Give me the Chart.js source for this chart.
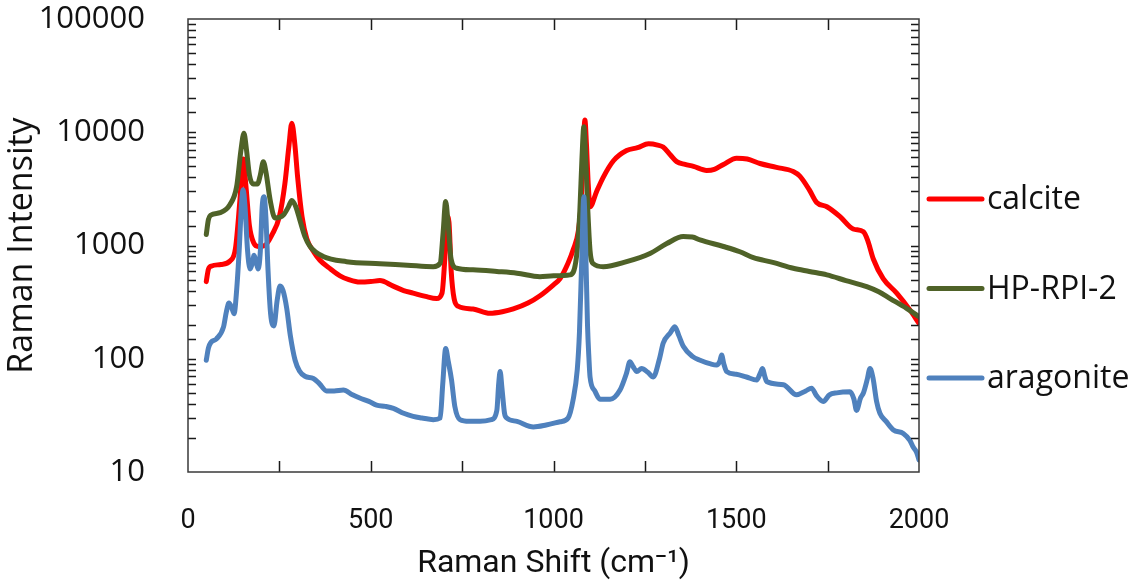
<!DOCTYPE html>
<html>
<head>
<meta charset="utf-8">
<title>Raman spectra</title>
<script src="https://cdn.jsdelivr.net/npm/chart.js@4/dist/chart.umd.min.js"></script>
<style>
  html, body { margin: 0; padding: 0; background: #fff; }
  #wrap { width: 1136px; height: 583px; }
</style>
</head>
<body>
<div id="wrap"><canvas id="spectra"></canvas></div>
<script>
// Raman shift (cm-1) and intensity for each sample
const calciteShift = [50, 56, 65, 90, 115, 130, 142, 151, 158, 168, 180, 192, 210, 230, 250, 265, 276, 284, 292, 300, 312, 325, 345, 361, 390, 416, 440, 470, 500, 525, 560, 590, 616, 650, 680, 695, 703, 709, 714, 720, 728, 740, 780, 826, 860, 890, 930, 963, 1000, 1018, 1040, 1054, 1068, 1076, 1082, 1086, 1090, 1095, 1100, 1118, 1136, 1164, 1200, 1230, 1260, 1285, 1300, 1320, 1337, 1360, 1383, 1419, 1440, 1465, 1501, 1530, 1565, 1610, 1656, 1674, 1700, 1720, 1748, 1784, 1820, 1848, 1860, 1875, 1902, 1939, 1975, 2000];
const calciteIntensity = [480, 620, 660, 680, 730, 950, 2500, 5800, 3500, 1500, 1050, 980, 1000, 1250, 1800, 3500, 7500, 12000, 8000, 4000, 1800, 1150, 870, 740, 620, 540, 500, 475, 480, 490, 440, 400, 380, 355, 340, 380, 800, 1800, 1600, 600, 340, 290, 275, 252, 260, 275, 310, 360, 450, 510, 700, 920, 1350, 2500, 8000, 12800, 8000, 3500, 2200, 3000, 4000, 5600, 6900, 7300, 7900, 7700, 7400, 6300, 5500, 5200, 5000, 4600, 4700, 5200, 5900, 5800, 5300, 4900, 4500, 4100, 3100, 2400, 2200, 1800, 1400, 1320, 1100, 760, 510, 380, 270, 205];

const hpShift = [50, 56, 62, 88, 115, 133, 145, 153, 160, 168, 178, 190, 198, 206, 213, 225, 238, 261, 275, 284, 295, 306, 320, 334, 370, 434, 525, 600, 671, 690, 698, 705, 712, 720, 735, 780, 845, 900, 963, 1000, 1045, 1063, 1072, 1078, 1083, 1088, 1094, 1100, 1109, 1136, 1200, 1264, 1310, 1355, 1380, 1401, 1465, 1510, 1547, 1600, 1656, 1700, 1748, 1800, 1857, 1890, 1921, 1966, 2000];
const hpIntensity = [1250, 1700, 1850, 1950, 2300, 3300, 7000, 9800, 7000, 4200, 3500, 3500, 4200, 5500, 4500, 2500, 1750, 1860, 2200, 2500, 2200, 1680, 1200, 980, 800, 720, 690, 670, 650, 700, 1300, 2450, 1500, 750, 630, 610, 590, 570, 530, 540, 550, 800, 2000, 6000, 11200, 6000, 2000, 900, 690, 650, 720, 850, 1040, 1200, 1190, 1120, 980, 880, 780, 710, 630, 590, 550, 490, 433, 390, 340, 279, 235];

const aragoniteShift = [50, 56, 63, 78, 97, 105, 112, 120, 126, 133, 140, 147, 151, 156, 163, 170, 176, 181, 187, 192, 198, 203, 208, 213, 219, 226, 235, 244, 252, 260, 270, 280, 293, 305, 320, 343, 360, 379, 400, 425, 450, 470, 495, 516, 540, 562, 590, 616, 640, 671, 690, 697, 705, 712, 721, 730, 744, 770, 799, 830, 845, 850, 854, 859, 866, 872, 900, 945, 980, 1018, 1040, 1054, 1065, 1071, 1077, 1083, 1089, 1093, 1097, 1100, 1113, 1127, 1155, 1182, 1200, 1209, 1218, 1228, 1241, 1258, 1273, 1290, 1300, 1320, 1332, 1343, 1355, 1380, 1401, 1430, 1446, 1455, 1460, 1466, 1474, 1500, 1528, 1556, 1566, 1572, 1578, 1583, 1629, 1665, 1690, 1706, 1720, 1738, 1755, 1775, 1811, 1822, 1829, 1840, 1848, 1858, 1866, 1874, 1884, 1893, 1910, 1930, 1957, 1975, 1984, 1993, 2000];
const aragoniteIntensity = [97, 125, 140, 150, 190, 260, 310, 280, 250, 400, 900, 2500, 3100, 2200, 900, 620, 700, 820, 700, 620, 900, 2200, 2700, 1800, 600, 250, 195, 330, 440, 400, 280, 160, 97, 78, 70, 67, 60, 52, 52, 53, 48, 45, 42, 39, 38, 36.5, 33, 31, 30, 29, 30, 60, 123, 95, 65, 38, 29, 28, 28, 29, 35, 60, 77, 55, 33, 30, 28, 25, 26, 27.8, 30, 44, 80, 170, 700, 2700, 700, 200, 100, 69, 52, 44, 44, 53, 75, 94, 85, 77, 82, 76, 69, 100, 137, 170, 192, 160, 129, 105, 97, 90, 88, 95, 108, 90, 77, 73, 69, 65, 75, 82, 70, 63, 59, 48, 52, 55, 47, 42, 48, 50, 51, 44, 35, 45, 50, 65, 82, 68, 42, 33, 28, 23.5, 21.9, 19, 16.6, 15, 12.8];

const seriesNames = ['calcite', 'HP-RPI-2', 'aragonite'];
const seriesColors = ['#FF0000', '#4F6228', '#4F81BD'];

const xTickLabels = [0, 500, 1000, 1500, 2000];
const yTickLabels = [10, 100, 1000, 10000, 100000];

const pts = (xs, ys) => xs.map((x, i) => ({ x, y: ys[i] }));

// frame and inward tick marks on all four sides
const frameTicks = {
    id: 'frameTicks',
    afterDraw(chart) {
        const { ctx, chartArea: a, scales } = chart;
        ctx.save();
        ctx.strokeStyle = '#1a1a1a';
        ctx.lineWidth = 1.5;
        ctx.beginPath();
        scales.x.ticks.forEach(t => {
            const px = Math.round(scales.x.getPixelForValue(t.value)) + 0.5;
            if (px < a.left + 2 || px > a.right - 2) return;
            ctx.moveTo(px, a.bottom); ctx.lineTo(px, a.bottom - 11);
            ctx.moveTo(px, a.top); ctx.lineTo(px, a.top + 11);
        });
        scales.y.ticks.forEach(t => {
            const py = Math.round(scales.y.getPixelForValue(t.value)) + 0.5;
            if (py < a.top + 2 || py > a.bottom - 2) return;
            ctx.moveTo(a.left, py); ctx.lineTo(a.left + 8, py);
            ctx.moveTo(a.right, py); ctx.lineTo(a.right - 8, py);
        });
        ctx.stroke();
        ctx.strokeStyle = '#3a3a3a';
        ctx.lineWidth = 1.5;
        ctx.strokeRect(a.left, a.top, a.right - a.left, a.bottom - a.top);
        ctx.restore();
    }
};

// legend to the right of the plot
const sideLegend = {
    id: 'sideLegend',
    afterDraw(chart) {
        const { ctx, chartArea: a } = chart;
        const mid = (a.top + a.bottom) / 2 + 43;
        const gap = 89.5;
        ctx.save();
        ctx.font = '32px "Open Sans", sans-serif';
        ctx.textBaseline = 'middle';
        ctx.lineCap = 'round';
        chart.data.datasets.forEach((ds, i) => {
            const y = mid + (i - 1) * gap;
            ctx.strokeStyle = ds.borderColor;
            ctx.lineWidth = 5;
            ctx.beginPath();
            ctx.moveTo(a.right + 10, y);
            ctx.lineTo(a.right + 63, y);
            ctx.stroke();
            ctx.fillStyle = '#111';
            ctx.fillText(ds.label, a.right + 68, y + 1);
        });
        ctx.restore();
    }
};

new Chart(document.getElementById('spectra'), {
    type: 'line',
    data: {
        datasets: [
            { label: seriesNames[0], data: pts(calciteShift, calciteIntensity), borderColor: seriesColors[0], order: 3 },
            { label: seriesNames[1], data: pts(hpShift, hpIntensity), borderColor: seriesColors[1], order: 2 },
            { label: seriesNames[2], data: pts(aragoniteShift, aragoniteIntensity), borderColor: seriesColors[2], order: 1 },
        ],
    },
    options: {
        responsive: true,
        maintainAspectRatio: false,
        animation: false,
        parsing: false,
        layout: { padding: { top: 19, right: 217, left: 0, bottom: 0 } },
        elements: {
            line: { borderWidth: 5, cubicInterpolationMode: 'monotone', borderJoinStyle: 'round', borderCapStyle: 'round' },
            point: { radius: 0 },
        },
        plugins: { legend: { display: false }, tooltip: { enabled: false } },
        scales: {
            x: {
                type: 'linear', min: 0, max: 2000,
                grid: { display: false },
                border: { display: false },
                ticks: {
                    stepSize: 250, autoSkip: false, maxRotation: 0, padding: 25,
                    color: '#111',
                    font: { family: '"Roboto", sans-serif', size: 27 },
                    callback: (v) => xTickLabels.includes(v) ? String(v) : '',
                },
                title: {
                    display: true, text: 'Raman Shift (cm⁻¹)', color: '#111',
                    font: { family: '"Roboto", sans-serif', size: 32 },
                    padding: { top: 0, bottom: 0 },
                },
                afterFit: (s) => { s.height = 111; s.paddingLeft = 0; s.paddingRight = 0; },
            },
            y: {
                type: 'logarithmic', min: 10, max: 100000,
                grid: { display: false },
                border: { display: false },
                ticks: {
                    autoSkip: false, padding: 35, color: '#111',
                    font: { family: '"Open Sans", sans-serif', size: 31 },
                    callback: (v) => yTickLabels.includes(v) ? String(v) : '',
                },
                title: {
                    display: true, text: 'Raman Intensity', color: '#111',
                    font: { family: '"Open Sans", sans-serif', size: 34 },
                    padding: { top: 2, bottom: 0 },
                },
                afterFit: (s) => { s.width = 188; s.paddingTop = 0; s.paddingBottom = 0; },
            },
        },
    },
    plugins: [frameTicks, sideLegend],
});
</script>
</body>
</html>
